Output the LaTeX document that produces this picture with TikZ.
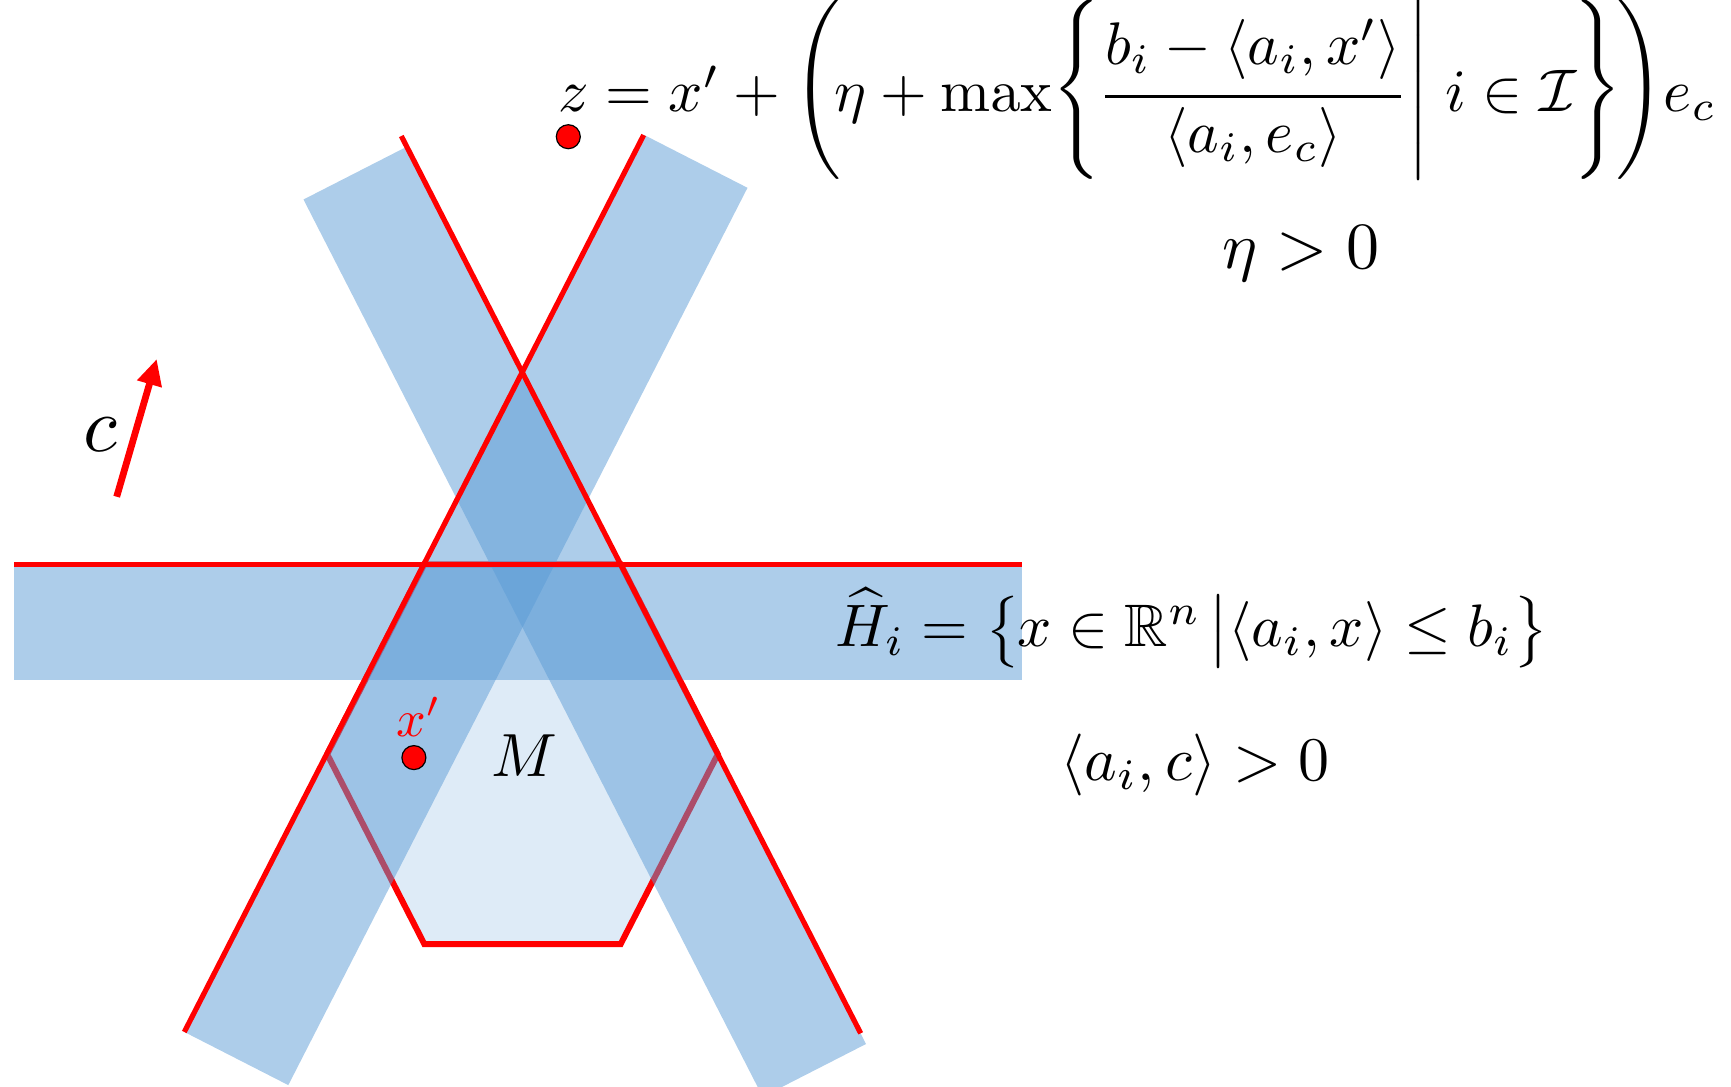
\documentclass[tikz,border=0pt]{standalone}
\usepackage{amsmath,amssymb}
\usetikzlibrary{arrows.meta}
\definecolor{bandblue}{HTML}{5B9BD5}
\definecolor{pred}{RGB}{255,0,0}
\tikzset{
  band/.style={fill=bandblue, fill opacity=0.5, draw=none},
  redline/.style={draw=pred, line width=2.6pt},
  hexa/.style={draw=pred, line width=3pt, fill=bandblue, fill opacity=0.2, draw opacity=1, line join=miter},
  dot/.style={circle, fill=pred, draw=black, line width=0.6pt, minimum size=12pt, inner sep=0pt},
  lbl/.style={inner sep=0pt, outer sep=0pt},
}
% delimiters of a fixed total height, raised by #3
\newcommand{\dlbox}[4]{\raisebox{#3}{$\delimiterfactor=1000 \delimitershortfall=0pt #1\vcenter to #4{}#2$}}
\newcommand{\dlo}[3]{\mathopen{\dlbox{\left#3}{\right.}{#2}{#1}}}
\newcommand{\dlc}[3]{\mathclose{\dlbox{\left.}{\right#3}{#2}{#1}}}
\newcommand{\dlm}[3]{\mathord{\dlbox{\left.}{\right#3}{#2}{#1}}}
\begin{document}
\begin{tikzpicture}[x=0.5pt,y=-0.5pt]
\useasboundingbox (0,0) rectangle (1731,1087);
% hexagon M
\filldraw[hexa] (424.3,564.4) -- (620.7,564.4) -- (717.8,754.2) -- (620.7,944) -- (424.3,944) -- (327.2,754.2) -- cycle;
% bands
\fill[band] (406.8,146.7) -- (866,1044) -- (762.7,1096.8) -- (303.5,199.5) -- cycle;
\fill[band] (644.2,135) -- (185,1032.3) -- (288.3,1085.1) -- (747.5,187.8) -- cycle;
\fill[band] (14,564.4) rectangle (1022,680.4);
% red lines
\coordinate (l1a) at (401.3,136);
\coordinate (l1b) at (860.7,1033.3);
\coordinate (l2a) at (643.7,135);
\coordinate (l2b) at (184.3,1032);
\coordinate (lha) at (14,564.4);
\coordinate (lhb) at (1022,564.4);
\draw[redline] (l1a) -- (l1b);
\draw[redline] (l2a) -- (l2b);
\draw[redline] (lha) -- (lhb);
% direction c
\coordinate (ca) at (116.7,496.7);
\coordinate (cb) at (156.7,359);
\draw[pred, line width=3.4pt, -{Triangle[width=12pt,length=13pt]}] (ca) -- (cb);
\node[lbl] (clbl) at (100,435) {\scalebox{3.9}{$c$}};
% points
\node[dot] (xp) at (413.9,757.6) {};
\node[dot] (zp) at (568.3,136.7) {};
\node[lbl, text=pred] (xplbl) at (419,717) {\scalebox{2.6}{$x'$}};
\node[lbl] (Mlbl) at (524,756) {\scalebox{3.05}{$M$}};
% formulas
\node[lbl, anchor=base west] (zf) at (558,111.7) {\resizebox{579pt}{!}{$z = x' + \dlo{26pt}{1.2pt}{(}\mkern-4mu\eta + \max\dlo{26pt}{1.2pt}{\{}\mkern-3mu\dfrac{b_i - \langle a_i, x'\rangle\rule[-4pt]{0pt}{4pt}}{\langle a_i, e_c\rangle}\mkern-2mu\dlm{26pt}{1.2pt}{|}\; i \in \mathcal{I}\mkern-3mu\dlc{26pt}{1.2pt}{\}}\mkern-4mu\dlc{26pt}{1.2pt}{)} e_c$}};
\node[lbl, anchor=base] (eta) at (1301,268.3) {\scalebox{3.3}{$\eta > 0$}};
\node[lbl, anchor=base] (Hf) at (1192,646.7) {\scalebox{3.0}{$\widehat{H}_i = \dlo{12pt}{0pt}{\{}\mkern-3mu x \in \mathbb{R}^n \dlm{12pt}{0pt}{|} \langle a_i, x\rangle \le b_i\mkern-2mu\dlc{12pt}{0pt}{\}}$}};
\node[lbl, anchor=base] (ac) at (1195,780) {\scalebox{3.1}{$\langle a_i, c\rangle > 0$}};
\end{tikzpicture}
\end{document}
